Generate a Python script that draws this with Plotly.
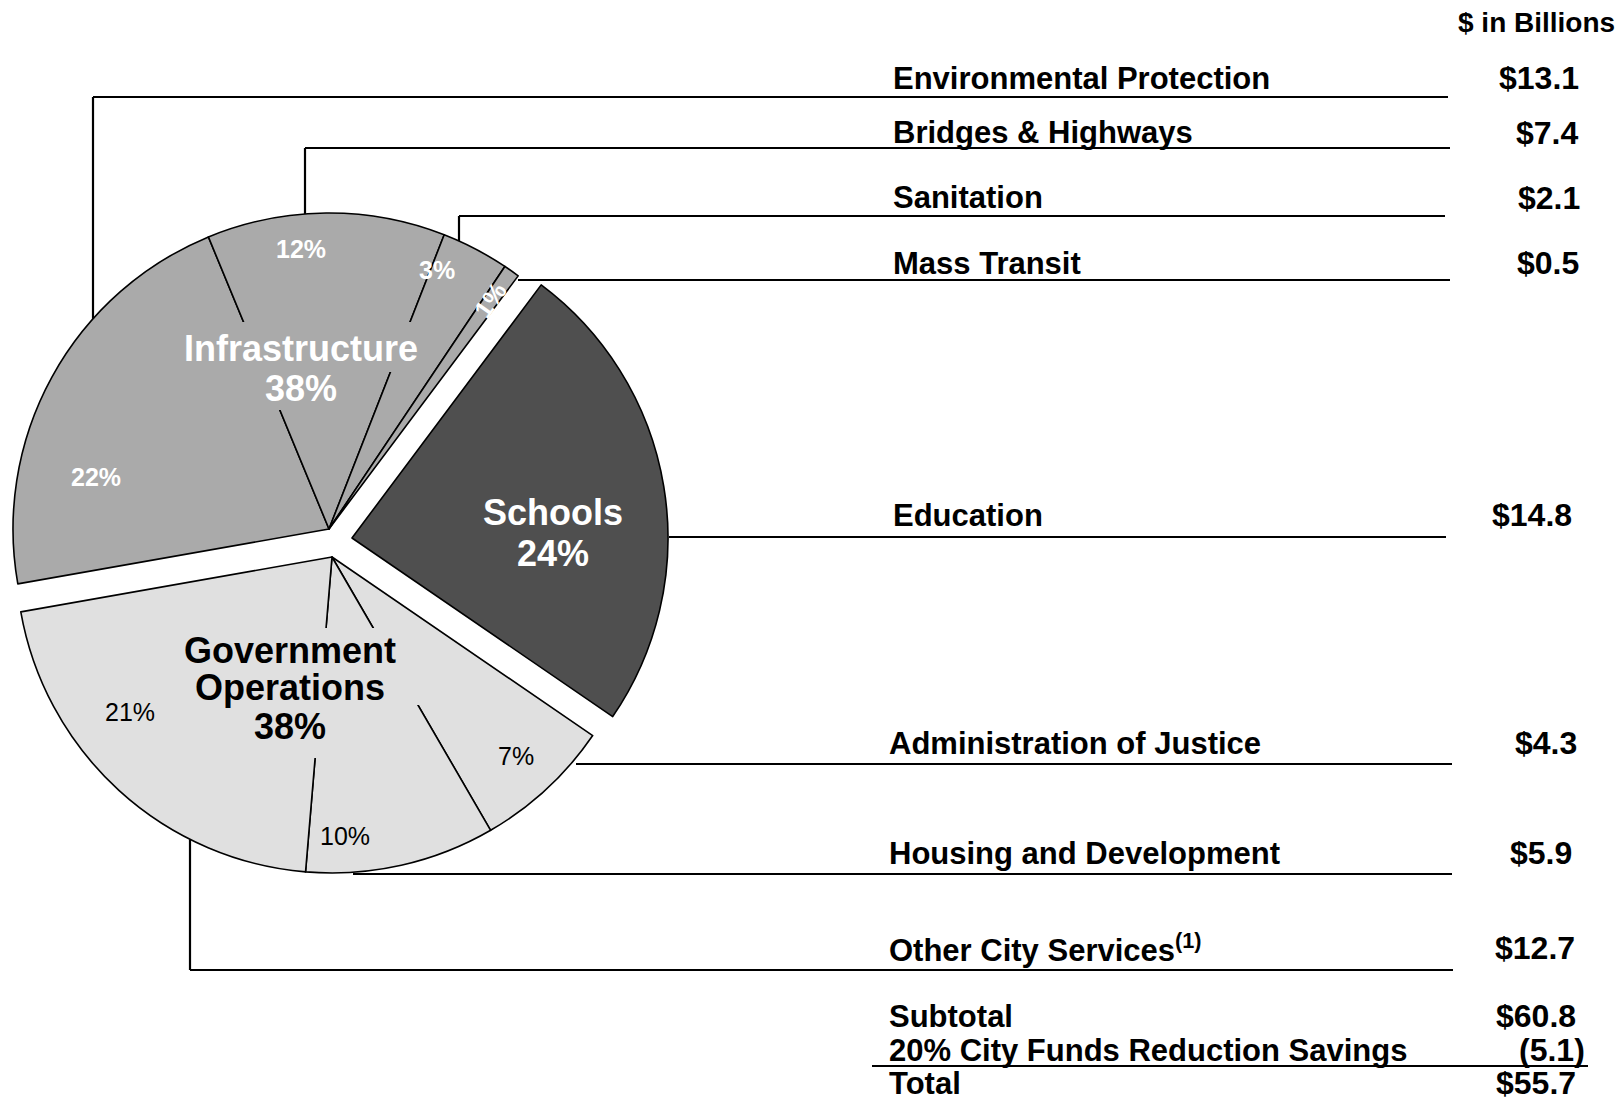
import math
import plotly.graph_objects as go

# ---------------- data ----------------
categories = ["Environmental Protection", "Bridges & Highways", "Sanitation", "Mass Transit",
              "Education",
              "Administration of Justice", "Housing and Development", "Other City Services"]
values = [13.1, 7.4, 2.1, 0.5, 14.8, 4.3, 5.9, 12.7]
groups = ["Infrastructure", "Infrastructure", "Infrastructure", "Infrastructure",
          "Schools",
          "Government Operations", "Government Operations", "Government Operations"]
group_names = ["Infrastructure", "Schools", "Government Operations"]
reduction_savings = 5.1
unit_label = "$ in Billions"

# ---------------- layout / style ----------------
W, H = 1622, 1100
R = 316
ROT = 260 - 360
FONT = "Liberation Sans, Arial, sans-serif"
group_colors = {"Infrastructure": "#aaaaaa", "Schools": "#4f4f4f", "Government Operations": "#e0e0e0"}
group_text_colors = {"Infrastructure": "#ffffff", "Schools": "#ffffff", "Government Operations": "#000000"}
centers = {"Infrastructure": (329, 529), "Schools": (352, 538), "Government Operations": (332, 557)}
group_label_lines = {
    "Infrastructure": (["Infrastructure"], [348, 388], 301),
    "Schools": (["Schools"], [512, 553], 553),
    "Government Operations": (["Government", "Operations"], [650, 687, 726], 290),
}
# rectangles that mask the internal slice boundaries behind the group labels
label_masks = {
    "Infrastructure": [(182, 322, 422, 372), (242, 372, 345, 410)],
    "Schools": [],
    "Government Operations": [(182, 628, 402, 668), (190, 668, 422, 705), (250, 705, 330, 758)],
}
slice_label_pos = [(96, 477), (301, 249), (437, 270), (490, 300), None, (516, 756), (345, 836), (130, 712)]
row_y = [78, 133, 198, 263, 515, 743, 853, 948]
row_x = [892, 892, 892, 892, 892, 888, 888, 888]
val_right = [1580, 1579, 1581, 1580, 1573, 1578, 1573, 1576]
line_y = [97, 148, 216, 280, 537, 764, 874, 970]
line_end = [1448, 1450, 1445, 1450, 1446, 1452, 1452, 1453]
# leader anchor: ("v", x) vertical leader from pie edge at x, or ("h", x_start)
leader_anchor = [("v", 93), ("v", 305), ("v", 459), ("h", 518), ("h", 669), ("h", 576), ("h", 353), ("v", 190)]


def px(x):
    return x / W


def py(y):
    return 1 - y / H


fig = go.Figure()
for g in group_names:
    cx, cy = centers[g]
    colors = [group_colors[g] if grp == g else "rgba(0,0,0,0)" for grp in groups]
    lcolors = ["#000000" if grp == g else "rgba(0,0,0,0)" for grp in groups]
    fig.add_trace(go.Pie(
        labels=categories, values=values, sort=False, direction="clockwise", rotation=ROT,
        marker=dict(colors=colors, line=dict(color=lcolors, width=1.6)),
        textinfo="none", textposition="none", hoverinfo="skip", showlegend=False,
        domain=dict(x=[px(cx - R), px(cx + R)], y=[py(cy + R), py(cy - R)]),
    ))

total = sum(values)
annotations = []
shapes = []


def ann(x, y, text, size, color="#000000", bold=True, xanchor="center", angle=0):
    annotations.append(dict(
        x=px(x), y=py(y), xref="paper", yref="paper", text=text, showarrow=False,
        xanchor=xanchor, yanchor="middle", textangle=angle, borderpad=0,
        font=dict(family=FONT, size=size, color=color, weight="bold" if bold else "normal")))


def seg(x0, y0, x1, y1, w=2.2, color="#000000"):
    shapes.append(dict(type="line", xref="paper", yref="paper", x0=px(x0), y0=py(y0), x1=px(x1), y1=py(y1),
                       line=dict(color=color, width=w)))


# group labels (masks hide the internal slice boundaries beneath them)
for g in group_names:
    for (x0, y0, x1, y1) in label_masks[g]:
        shapes.append(dict(type="rect", xref="paper", yref="paper", x0=px(x0), y0=py(y1), x1=px(x1), y1=py(y0),
                           fillcolor=group_colors[g], line=dict(width=0), layer="above"))
    gsum = sum(v for v, grp in zip(values, groups) if grp == g)
    lines, ys, xc = group_label_lines[g]
    texts = lines + [f"{round(gsum / total * 100)}%"]
    for t, yy in zip(texts, ys):
        ann(xc, yy, t, 36, group_text_colors[g], True)

# slice percent labels
for i, (v, grp) in enumerate(zip(values, groups)):
    pos = slice_label_pos[i]
    if pos is None:
        continue
    angle = 0
    if v / total < 0.02:
        # rotate tiny-slice label along its radius
        start = ROT + 360 * sum(values[:i]) / total
        mid = start + 180 * v / total
        angle = -(90 - mid)
    ann(pos[0], pos[1], f"{round(v / total * 100)}%", 25, group_text_colors[grp],
        grp != "Government Operations", angle=angle)

# right-hand table
ann(1616, 23, unit_label, 28, xanchor="right")
for i, c in enumerate(categories):
    label = c + ("<sup>(1)</sup>" if c == "Other City Services" else "")
    ann(row_x[i], row_y[i], label, 31, xanchor="left")
    ann(val_right[i], row_y[i], f"${values[i]:.1f}", 32, xanchor="right")

    g = groups[i]
    cx, cy = centers[g]
    kind, ax = leader_anchor[i]
    ly = line_y[i]
    if kind == "v":
        dy = math.sqrt(max(R * R - (ax - cx) ** 2, 0))
        ey = cy - dy if ly < cy else cy + dy
        seg(ax, ey, ax, ly)
        seg(ax, ly, line_end[i], ly)
    else:
        seg(ax, ly, line_end[i], ly)

ann(888, 1016, "Subtotal", 31, xanchor="left")
ann(1577, 1016, f"${total:.1f}", 32, xanchor="right")
ann(888, 1050, "20% City Funds Reduction Savings", 31, xanchor="left")
ann(1586, 1050, f"({reduction_savings:.1f})", 32, xanchor="right")
seg(872, 1066, 1588, 1066)
ann(888, 1083, "Total", 31, xanchor="left")
ann(1577, 1083, f"${total - reduction_savings:.1f}", 32, xanchor="right")

fig.update_layout(
    width=W, height=H, margin=dict(l=0, r=0, t=0, b=0),
    paper_bgcolor="#ffffff", plot_bgcolor="#ffffff",
    annotations=annotations, shapes=shapes, showlegend=False,
)
fig.write_html("out.html", config={"displayModeBar": False},
               post_script="document.body.style.margin='0';document.body.style.overflow='hidden';")
